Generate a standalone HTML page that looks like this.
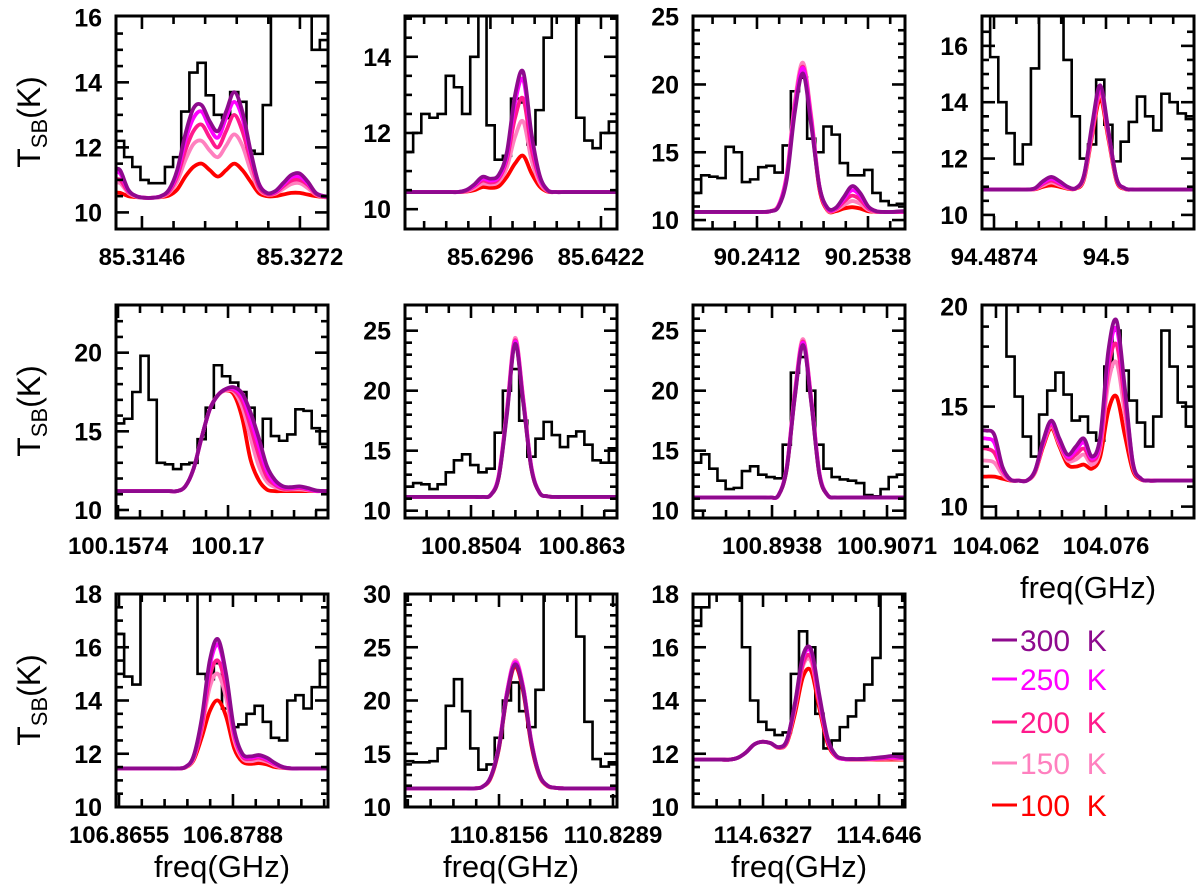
<!DOCTYPE html>
<html><head><meta charset="utf-8">
<style>
html,body{margin:0;padding:0;background:#fff;}
svg{display:block;}
text{font-family:"Liberation Sans",sans-serif;}
</style></head>
<body>
<svg id="fig" width="1200" height="893" viewBox="0 0 1200 893" xmlns="http://www.w3.org/2000/svg"></svg>
<script>
// ---------- data (channel values, K) ----------
const p1_obs=[12.2,11.7,11.4,11.0,10.9,10.9,11.4,11.7,13.1,14.3,14.6,13.6,13.0,12.9,13.7,13.4,11.9,11.8,13.3,16.5,17,17,17,16.3,15.0,15.3];
const p1_t300=[11.3,10.7,10.5,10.45,10.45,10.5,10.7,11.3,12.4,13.2,13.3,12.8,12.5,13.1,13.7,13.1,11.9,10.9,10.6,10.65,10.9,11.15,11.2,10.95,10.6,10.5];
const p1_t250=[11.2,10.68,10.5,10.45,10.45,10.5,10.68,11.2,12.2,12.9,13.1,12.6,12.3,12.9,13.4,12.9,11.8,10.9,10.6,10.63,10.85,11.08,11.1,10.9,10.6,10.5];
const p1_t200=[11.0,10.64,10.5,10.45,10.45,10.5,10.64,11.1,11.9,12.5,12.7,12.3,12.0,12.5,13.0,12.5,11.6,10.8,10.57,10.6,10.8,10.98,11.0,10.85,10.57,10.48];
const p1_t150=[10.9,10.6,10.48,10.45,10.45,10.48,10.6,10.95,11.6,12.1,12.2,11.9,11.7,12.05,12.4,12.05,11.3,10.72,10.55,10.57,10.72,10.87,10.9,10.75,10.55,10.47];
const p1_t100=[10.6,10.5,10.47,10.45,10.45,10.47,10.52,10.7,11.1,11.4,11.5,11.3,11.1,11.3,11.5,11.3,10.95,10.6,10.5,10.5,10.55,10.6,10.6,10.55,10.5,10.47];

const p2_obs=[11.5,12.0,12.5,12.4,12.5,13.5,13.2,12.5,14,16,12.2,11.3,11.4,12.9,12.8,11.7,12.6,14.5,16,16,16,12.4,11.8,11.6,12.0,12.3];
const p2_t300=[10.45,10.45,10.45,10.45,10.45,10.45,10.45,10.5,10.65,10.85,10.8,10.9,11.5,13.0,13.6,12.0,10.9,10.5,10.45,10.45,10.45,10.45,10.45,10.45,10.45,10.45];
const p2_t250=[10.45,10.45,10.45,10.45,10.45,10.45,10.45,10.5,10.62,10.8,10.75,10.85,11.4,12.8,13.4,11.9,10.85,10.5,10.45,10.45,10.45,10.45,10.45,10.45,10.45,10.45];
const p2_t200=[10.45,10.45,10.45,10.45,10.45,10.45,10.45,10.48,10.6,10.75,10.7,10.8,11.3,12.4,12.9,11.6,10.8,10.48,10.45,10.45,10.45,10.45,10.45,10.45,10.45,10.45];
const p2_t150=[10.45,10.45,10.45,10.45,10.45,10.45,10.45,10.47,10.55,10.67,10.65,10.72,11.1,11.9,12.3,11.3,10.7,10.47,10.45,10.45,10.45,10.45,10.45,10.45,10.45,10.45];
const p2_t100=[10.45,10.45,10.45,10.45,10.45,10.45,10.45,10.46,10.5,10.58,10.56,10.6,10.85,11.2,11.4,10.95,10.6,10.46,10.45,10.45,10.45,10.45,10.45,10.45,10.45,10.45];

const p3_obs=[12.0,13.3,13.2,13.1,15.4,15.0,12.8,13.0,13.9,14.0,13.5,15.5,19.5,20.5,16.0,15.0,16.9,16.3,14.2,13.3,13.3,13.7,12.0,11.4,11.1,11.2];
const p3_t300=[10.6,10.6,10.6,10.6,10.6,10.6,10.6,10.6,10.6,10.65,11.0,13.0,18.0,20.8,17.0,12.5,10.9,10.9,11.7,12.5,12.0,11.0,10.65,10.6,10.6,10.65];
const p3_t250=[10.6,10.6,10.6,10.6,10.6,10.6,10.6,10.6,10.6,10.65,11.05,13.2,18.3,21.2,17.3,12.5,10.85,10.85,11.55,12.2,11.8,10.95,10.65,10.6,10.6,10.62];
const p3_t200=[10.6,10.6,10.6,10.6,10.6,10.6,10.6,10.6,10.6,10.65,11.05,13.3,18.5,21.3,17.5,12.5,10.8,10.8,11.35,11.8,11.5,10.85,10.62,10.6,10.6,10.6];
const p3_t150=[10.6,10.6,10.6,10.6,10.6,10.6,10.6,10.6,10.6,10.65,11.1,13.4,18.8,21.6,17.7,12.5,10.75,10.75,11.1,11.4,11.2,10.75,10.6,10.6,10.6,10.6];
const p3_t100=[10.6,10.6,10.6,10.6,10.6,10.6,10.6,10.6,10.6,10.65,11.1,13.2,18.5,21.0,17.3,12.3,10.7,10.65,10.85,10.95,10.85,10.65,10.6,10.6,10.6,10.6];

const p4_obs=[17.2,15.6,14.0,12.9,11.8,12.5,15.2,17.5,17.5,17.5,15.5,13.5,12.0,12.5,14.8,13.2,11.9,12.6,13.3,14.2,13.5,13.0,14.3,14.0,13.6,13.4];
const p4_t300=[10.9,10.9,10.9,10.9,10.9,10.9,10.95,11.2,11.35,11.2,11.0,10.95,11.4,13.2,14.6,13.0,11.3,10.95,10.9,10.9,10.9,10.9,10.9,10.9,10.9,10.9];
const p4_t250=[10.9,10.9,10.9,10.9,10.9,10.9,10.94,11.15,11.28,11.15,10.98,10.95,11.4,13.1,14.5,12.95,11.3,10.95,10.9,10.9,10.9,10.9,10.9,10.9,10.9,10.9];
const p4_t200=[10.9,10.9,10.9,10.9,10.9,10.9,10.93,11.1,11.22,11.1,10.97,10.95,11.35,13.0,14.4,12.9,11.28,10.94,10.9,10.9,10.9,10.9,10.9,10.9,10.9,10.9];
const p4_t150=[10.9,10.9,10.9,10.9,10.9,10.9,10.92,11.05,11.15,11.05,10.95,10.94,11.3,12.9,14.3,12.8,11.25,10.93,10.9,10.9,10.9,10.9,10.9,10.9,10.9,10.9];
const p4_t100=[10.9,10.9,10.9,10.9,10.9,10.9,10.91,11.0,11.05,11.0,10.93,10.93,11.25,12.8,14.1,12.7,11.2,10.92,10.9,10.9,10.9,10.9,10.9,10.9,10.9,10.9];

const p5_obs=[15.5,15.8,17.5,19.8,17.0,13.0,12.9,12.6,12.9,13.0,14.5,16.5,19.2,18.5,18.1,17.5,16.5,14.0,15.8,14.7,14.4,14.8,16.4,16.3,15.2,14.2];
const p5_t300=[11.2,11.2,11.2,11.2,11.2,11.2,11.2,11.2,11.5,12.6,14.6,16.4,17.3,17.7,17.8,17.4,16.2,14.6,12.8,11.9,11.5,11.45,11.5,11.4,11.25,11.2];
const p5_t250=[11.2,11.2,11.2,11.2,11.2,11.2,11.2,11.2,11.5,12.6,14.6,16.4,17.3,17.7,17.7,17.2,15.8,14.1,12.5,11.7,11.45,11.4,11.45,11.35,11.22,11.2];
const p5_t200=[11.2,11.2,11.2,11.2,11.2,11.2,11.2,11.2,11.5,12.6,14.6,16.4,17.3,17.65,17.6,16.9,15.3,13.5,12.1,11.6,11.35,11.35,11.4,11.3,11.2,11.2];
const p5_t150=[11.2,11.2,11.2,11.2,11.2,11.2,11.2,11.2,11.5,12.6,14.6,16.4,17.3,17.6,17.5,16.5,14.6,12.8,11.8,11.45,11.3,11.3,11.3,11.25,11.2,11.2];
const p5_t100=[11.2,11.2,11.2,11.2,11.2,11.2,11.2,11.2,11.5,12.6,14.6,16.4,17.3,17.6,17.3,15.8,13.2,11.9,11.3,11.2,11.2,11.2,11.2,11.2,11.2,11.2];

const p6_obs=[12.0,12.3,12.2,11.8,12.2,13.2,14.2,14.7,13.8,13.2,13.5,16.5,20.0,21.8,17.5,14.5,16.0,17.4,16.3,15.3,16.2,16.6,15.5,14.2,14.0,15.2];
const p6_t300=[11.15,11.15,11.15,11.15,11.15,11.15,11.15,11.15,11.15,11.15,11.3,12.8,18.0,23.9,19.0,13.5,11.5,11.2,11.15,11.15,11.15,11.15,11.15,11.15,11.15,11.15];
const p6_t250=[11.15,11.15,11.15,11.15,11.15,11.15,11.15,11.15,11.15,11.15,11.3,12.9,18.2,24.1,19.2,13.6,11.5,11.2,11.15,11.15,11.15,11.15,11.15,11.15,11.15,11.15];
const p6_t200=[11.15,11.15,11.15,11.15,11.15,11.15,11.15,11.15,11.15,11.15,11.3,12.9,18.3,24.2,19.3,13.6,11.5,11.2,11.15,11.15,11.15,11.15,11.15,11.15,11.15,11.15];
const p6_t150=[11.15,11.15,11.15,11.15,11.15,11.15,11.15,11.15,11.15,11.15,11.3,13.0,18.5,24.4,19.4,13.7,11.5,11.2,11.15,11.15,11.15,11.15,11.15,11.15,11.15,11.15];
const p6_t100=[11.15,11.15,11.15,11.15,11.15,11.15,11.15,11.15,11.15,11.15,11.3,12.8,18.2,24.0,19.1,13.5,11.5,11.2,11.15,11.15,11.15,11.15,11.15,11.15,11.15,11.15];

const p7_obs=[14.0,14.7,13.5,12.5,11.8,11.9,13.3,13.7,13.0,12.8,12.7,15.5,21.5,22.8,20.0,15.5,13.5,12.8,12.6,12.5,12.3,11.3,11.2,11.8,12.8,13.0];
const p7_t300=[11.1,11.1,11.1,11.1,11.1,11.1,11.1,11.1,11.1,11.1,11.3,13.5,19.5,23.8,19.0,13.0,11.3,11.1,11.1,11.1,11.1,11.1,11.1,11.1,11.1,11.1];
const p7_t250=[11.1,11.1,11.1,11.1,11.1,11.1,11.1,11.1,11.1,11.1,11.3,13.6,19.7,24.0,19.2,13.1,11.3,11.1,11.1,11.1,11.1,11.1,11.1,11.1,11.1,11.1];
const p7_t200=[11.1,11.1,11.1,11.1,11.1,11.1,11.1,11.1,11.1,11.1,11.3,13.6,19.8,24.1,19.3,13.1,11.3,11.1,11.1,11.1,11.1,11.1,11.1,11.1,11.1,11.1];
const p7_t150=[11.1,11.1,11.1,11.1,11.1,11.1,11.1,11.1,11.1,11.1,11.3,13.7,20.0,24.3,19.4,13.2,11.3,11.1,11.1,11.1,11.1,11.1,11.1,11.1,11.1,11.1];
const p7_t100=[11.1,11.1,11.1,11.1,11.1,11.1,11.1,11.1,11.1,11.1,11.3,13.5,19.6,23.9,19.1,13.0,11.3,11.1,11.1,11.1,11.1,11.1,11.1,11.1,11.1,11.1];

const p8_obs=[21,21,21,17.5,15.5,13.5,12.5,14.6,15.8,16.7,15.6,14.3,14.5,13.7,13.3,17.0,18.8,16.8,15.3,14.2,13.0,14.5,18.8,17.0,15.2,14.0];
const p8_t300=[13.8,13.6,12.0,11.35,11.3,11.3,11.8,13.3,14.3,13.4,12.6,13.0,13.4,12.5,13.5,17.8,19.3,16.0,12.2,11.4,11.3,11.3,11.3,11.3,11.3,11.3];
const p8_t250=[13.4,13.2,11.9,11.35,11.3,11.3,11.8,13.2,14.2,13.3,12.5,12.8,13.2,12.4,13.3,17.4,18.9,15.8,12.2,11.4,11.3,11.3,11.3,11.3,11.3,11.3];
const p8_t200=[12.9,12.7,11.8,11.33,11.3,11.3,11.75,13.15,14.1,13.2,12.4,12.6,12.9,12.3,13.1,16.9,18.1,15.3,12.1,11.38,11.3,11.3,11.3,11.3,11.3,11.3];
const p8_t150=[12.3,12.2,11.6,11.32,11.3,11.3,11.72,13.1,14.0,13.1,12.3,12.35,12.6,12.1,12.9,16.2,17.2,14.7,12.0,11.37,11.3,11.3,11.3,11.3,11.3,11.3];
const p8_t100=[11.5,11.5,11.4,11.3,11.3,11.3,11.7,13.0,13.9,13.0,12.1,12.0,12.1,11.9,12.5,14.8,15.5,13.6,11.8,11.35,11.3,11.3,11.3,11.3,11.3,11.3];

const p9_obs=[16.5,14.9,14.6,19,19,19,19,19,19,19,15.0,14.8,15.4,13.7,13.0,13.1,13.5,13.8,13.2,12.6,12.5,14.0,14.2,13.7,14.5,15.5];
const p9_t300=[11.45,11.45,11.45,11.45,11.45,11.45,11.45,11.45,11.5,11.9,13.3,15.5,16.3,15.0,12.9,12.0,11.9,11.95,11.85,11.65,11.5,11.45,11.45,11.45,11.45,11.45];
const p9_t250=[11.45,11.45,11.45,11.45,11.45,11.45,11.45,11.45,11.5,11.88,13.2,15.3,16.1,14.9,12.8,11.95,11.85,11.9,11.8,11.62,11.5,11.45,11.45,11.45,11.45,11.45];
const p9_t200=[11.45,11.45,11.45,11.45,11.45,11.45,11.45,11.45,11.5,11.85,13.0,14.9,15.5,14.5,12.7,11.9,11.8,11.85,11.75,11.6,11.48,11.45,11.45,11.45,11.45,11.45];
const p9_t150=[11.45,11.45,11.45,11.45,11.45,11.45,11.45,11.45,11.49,11.8,12.9,14.5,15.0,14.1,12.5,11.82,11.72,11.77,11.7,11.55,11.47,11.45,11.45,11.45,11.45,11.45];
const p9_t100=[11.45,11.45,11.45,11.45,11.45,11.45,11.45,11.45,11.48,11.75,12.6,13.6,14.0,13.4,12.2,11.7,11.62,11.65,11.6,11.5,11.47,11.45,11.45,11.45,11.45,11.45];

const p10_obs=[14.3,14.2,14.2,14.3,15.5,19.5,22.0,19.0,15.5,13.5,14.0,16.5,20.0,21.7,19.0,17.5,21.0,31,31,31,31,26.0,18.0,14.5,13.8,14.2];
const p10_t300=[11.75,11.75,11.75,11.75,11.75,11.75,11.75,11.75,11.75,11.9,12.8,15.5,20.5,23.4,21.0,16.0,13.0,12.0,11.8,11.75,11.75,11.75,11.75,11.75,11.75,11.75];
const p10_t250=[11.75,11.75,11.75,11.75,11.75,11.75,11.75,11.75,11.75,11.9,12.8,15.6,20.7,23.6,21.2,16.1,13.0,12.0,11.8,11.75,11.75,11.75,11.75,11.75,11.75,11.75];
const p10_t200=[11.75,11.75,11.75,11.75,11.75,11.75,11.75,11.75,11.75,11.9,12.8,15.6,20.7,23.6,21.2,16.1,13.0,12.0,11.8,11.75,11.75,11.75,11.75,11.75,11.75,11.75];
const p10_t150=[11.75,11.75,11.75,11.75,11.75,11.75,11.75,11.75,11.75,11.9,12.8,15.7,20.8,23.8,21.3,16.2,13.0,12.0,11.8,11.75,11.75,11.75,11.75,11.75,11.75,11.75];
const p10_t100=[11.75,11.75,11.75,11.75,11.75,11.75,11.75,11.75,11.75,11.9,12.7,15.4,20.4,23.2,20.8,15.8,12.9,11.95,11.8,11.75,11.75,11.75,11.75,11.75,11.75,11.75];

const p11_obs=[16.8,17.5,19,19,19,19,16.0,14.0,13.2,12.9,12.7,12.8,15.0,16.6,16.0,13.5,12.2,12.5,13.0,13.4,14.0,14.6,15.6,18.5,19,19];
const p11_t300=[11.78,11.78,11.78,11.78,11.78,11.85,12.05,12.35,12.45,12.4,12.25,12.5,13.9,15.7,15.9,14.2,12.6,11.95,11.82,11.8,11.8,11.82,11.85,11.88,11.92,11.88];
const p11_t250=[11.78,11.78,11.78,11.78,11.78,11.85,12.05,12.35,12.45,12.4,12.25,12.5,13.85,15.6,15.8,14.1,12.55,11.93,11.8,11.8,11.8,11.81,11.83,11.86,11.88,11.85];
const p11_t200=[11.78,11.78,11.78,11.78,11.78,11.85,12.05,12.35,12.45,12.4,12.24,12.45,13.8,15.4,15.6,14.0,12.5,11.92,11.8,11.79,11.79,11.8,11.81,11.83,11.85,11.83];
const p11_t150=[11.78,11.78,11.78,11.78,11.78,11.85,12.05,12.35,12.45,12.4,12.23,12.43,13.7,15.3,15.45,13.9,12.5,11.91,11.8,11.79,11.79,11.79,11.8,11.81,11.82,11.8];
const p11_t100=[11.78,11.78,11.78,11.78,11.78,11.85,12.05,12.35,12.45,12.4,12.22,12.4,13.5,14.9,15.1,13.7,12.4,11.9,11.8,11.78,11.78,11.78,11.78,11.78,11.78,11.78];

const tempLabels=["300 K","250 K","200 K","150 K","100 K"];
const xTickLabels=[[85.3146,85.3272],[85.6296,85.6422],[90.2412,90.2538],[94.4874,94.5],[100.1574,100.17],[100.8504,100.863],[100.8938,100.9071],[104.062,104.076],[106.8655,106.8788],[110.8156,110.8289],[114.6327,114.646]];
const xDomains=[[85.31253,85.32944],[85.61986,85.64403],[90.23394,90.2580],[94.48605,94.50990],[100.15717,100.18145],[100.84291,100.86697],[100.88466,100.90918],[104.06022,104.08721],[106.86515,106.88989],[110.80463,110.82937],[114.62467,114.64898]];
const yDomains=[[9.49,16.04],[9.48,15.07],[9.34,25.05],[9.5,17.06],[9.49,23.03],[9.39,27.14],[9.39,27.14],[9.43,20.08],[10,18],[10,30],[10,18]];
const yMajor=[2,2,5,2,5,5,5,5,2,5,2];
const yMinor=[0.5,0.5,1,0.5,1,1,1,1,0.5,1,0.5];

// ---------- layout ----------
const colX=[116,405,693,982], rowY=[16,305,594], BW=212, BH=213;
const colors=["#8e0a8e","#ff00ff","#ff1a8c","#ff80bf","#ff0000"];
const series=[
 [p1_obs,p1_t300,p1_t250,p1_t200,p1_t150,p1_t100],
 [p2_obs,p2_t300,p2_t250,p2_t200,p2_t150,p2_t100],
 [p3_obs,p3_t300,p3_t250,p3_t200,p3_t150,p3_t100],
 [p4_obs,p4_t300,p4_t250,p4_t200,p4_t150,p4_t100],
 [p5_obs,p5_t300,p5_t250,p5_t200,p5_t150,p5_t100],
 [p6_obs,p6_t300,p6_t250,p6_t200,p6_t150,p6_t100],
 [p7_obs,p7_t300,p7_t250,p7_t200,p7_t150,p7_t100],
 [p8_obs,p8_t300,p8_t250,p8_t200,p8_t150,p8_t100],
 [p9_obs,p9_t300,p9_t250,p9_t200,p9_t150,p9_t100],
 [p10_obs,p10_t300,p10_t250,p10_t200,p10_t150,p10_t100],
 [p11_obs,p11_t300,p11_t250,p11_t200,p11_t150,p11_t100]
];
const NS="http://www.w3.org/2000/svg";
const svg=document.getElementById('fig');
function mk(tag,attrs,parent){const e=document.createElementNS(NS,tag);for(const k in attrs)e.setAttribute(k,attrs[k]);(parent||svg).appendChild(e);return e;}

const defs=mk('defs',{});
for(let p=0;p<11;p++){
  const L=colX[p%4], T=rowY[Math.floor(p/4)], R=L+BW, B=T+BH;
  const [y0,y1]=yDomains[p], [x0,x1]=xDomains[p];
  const ys=v=>B-(v-y0)/(y1-y0)*BH;
  const xs=f=>L+(f-x0)/(x1-x0)*BW;
  const g=mk('g',{});
  
  
  const cp=mk('clipPath',{id:'cp'+p},defs);
  mk('rect',{x:L,y:T,width:BW,height:BH},cp);
  const plot=mk('g',{'clip-path':'url(#cp'+p+')'},g);
  const arr=series[p];
  const n=arr[0].length;
  const cx=i=>L+i*BW/n;
  const drawStep=(vals,col,w,name)=>{
    let d='M'+cx(0)+','+ys(vals[0]);
    for(let i=0;i<vals.length;i++){
      if(i>0)d+=' V'+ys(vals[i]).toFixed(2);
      d+=' H'+cx(i+1).toFixed(2);
    }
    const path=mk('path',{d:d,fill:'none',stroke:col,'stroke-width':w},plot);
    
    
  };
  const drawSmooth=(vals,col,w,name)=>{
    const pts=vals.map((v,i)=>[cx(i+0.5),ys(v)]);
    pts.unshift([L-2,pts[0][1]]);
    pts.push([R+2,pts[pts.length-1][1]]);
    let d='M'+pts[0][0].toFixed(2)+','+pts[0][1].toFixed(2);
    for(let i=0;i<pts.length-1;i++){
      const a=pts[Math.max(0,i-1)],b=pts[i],c=pts[i+1],e=pts[Math.min(pts.length-1,i+2)];
      const c1=[b[0]+(c[0]-a[0])/6,b[1]+(c[1]-a[1])/6];
      const c2=[c[0]-(e[0]-b[0])/6,c[1]-(e[1]-b[1])/6];
      d+=' C'+c1[0].toFixed(2)+','+c1[1].toFixed(2)+' '+c2[0].toFixed(2)+','+c2[1].toFixed(2)+' '+c[0].toFixed(2)+','+c[1].toFixed(2);
    }
    const path=mk('path',{d:d,fill:'none',stroke:col,'stroke-width':w,'stroke-linejoin':'round'},plot);
    
    
  };
  drawStep(arr[0],'#000',2.6,'observed-spectrum');
  for(let s=5;s>=1;s--) drawSmooth(arr[s],colors[s-1],3.8,'model-'+tempLabels[s-1].replace(' ','').toLowerCase());
  // frame
  const fr=mk('rect',{x:L,y:T,width:BW,height:BH,fill:'none',stroke:'#000','stroke-width':3},g);
  
  
  // y ticks
  const eps=1e-6;
  for(let v=Math.ceil(y0/yMinor[p]-eps)*yMinor[p]; v<=y1+eps; v+=yMinor[p]){
    const yy=ys(v); if(yy<T+2||yy>B-2)continue;
    const isMaj=Math.abs(v/yMajor[p]-Math.round(v/yMajor[p]))<1e-4;
    const len=isMaj?13:7;
    mk('line',{x1:L,x2:L+len,y1:yy,y2:yy,stroke:'#000','stroke-width':2.6},g);
    mk('line',{x1:R,x2:R-len,y1:yy,y2:yy,stroke:'#000','stroke-width':2.6},g);
  }
  for(let v=Math.ceil(y0/yMajor[p]-eps)*yMajor[p]; v<=y1+eps; v+=yMajor[p]){
    const t=mk('text',{x:L-14,y:ys(v)+9,'text-anchor':'end','font-size':25,'font-weight':'bold'},g);
    t.textContent=String(Math.round(v));
    
    
  }
  // x ticks
  const lab=xTickLabels[p], maj=lab[1]-lab[0], mn=maj/5;
  for(let k=-30;k<=30;k++){
    const f=lab[0]+k*mn, xx=xs(f);
    if(xx<L+2||xx>R-2)continue;
    const len=(k%5===0)?13:8;
    mk('line',{x1:xx,x2:xx,y1:B,y2:B-len,stroke:'#000','stroke-width':2.6},g);
    mk('line',{x1:xx,x2:xx,y1:T,y2:T+len,stroke:'#000','stroke-width':2.6},g);
  }
  lab.forEach(f=>{
    const t=mk('text',{x:xs(f),y:B+36,'text-anchor':'middle','font-size':24,'font-weight':'bold'},g);
    t.textContent=String(f);
    
    
  });
}
// y-axis titles
[122,411,700].forEach(cy=>{
  const t=mk('text',{transform:'translate(40,'+cy+') rotate(-90)','text-anchor':'middle','font-size':32});
  t.innerHTML='T<tspan font-size="22" dy="7">SB</tspan><tspan dy="-7">(K)</tspan>';
  
  
});
// x-axis titles
[[222,877],[511,877],[799,877],[1088,598]].forEach(([x,y])=>{
  const t=mk('text',{x:x,y:y,'text-anchor':'middle','font-size':31});
  t.textContent='freq(GHz)';
  
  
});
// legend
const legY=[640,679,722,763,805];
tempLabels.forEach((lbl,i)=>{
  const g=mk('g',{});
  
  
  mk('line',{x1:992,x2:1017,y1:legY[i],y2:legY[i],stroke:colors[i],'stroke-width':3},g);
  const t=mk('text',{x:1020,y:legY[i]+11,'font-size':30,fill:colors[i]},g);
  t.setAttribute('xml:space','preserve');
  t.textContent=lbl.replace(' ','\u00a0 ');
});
</script>
</body></html>
